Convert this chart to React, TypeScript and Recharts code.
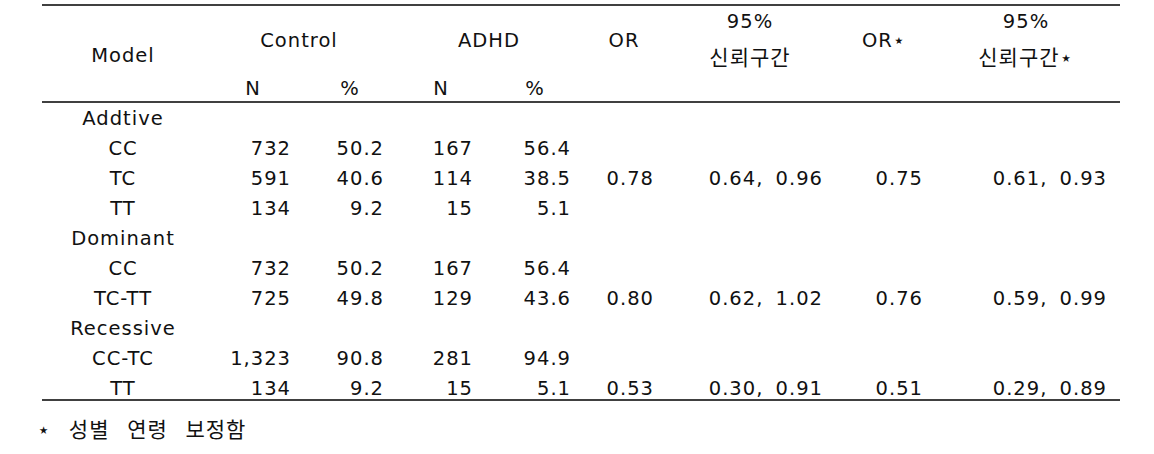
import React from "react";
import { ScatterChart, Scatter, XAxis, YAxis, ReferenceLine } from "recharts";

// body rows of the table (one entry per row, "" = empty cell)
const modelRows = ["Addtive", "CC", "TC", "TT", "Dominant", "CC", "TC-TT", "Recessive", "CC-TC", "TT"];
const controlN = ["", "732", "591", "134", "", "732", "725", "", "1,323", "134"];
const controlPct = ["", "50.2", "40.6", "9.2", "", "50.2", "49.8", "", "90.8", "9.2"];
const adhdN = ["", "167", "114", "15", "", "167", "129", "", "281", "15"];
const adhdPct = ["", "56.4", "38.5", "5.1", "", "56.4", "43.6", "", "94.9", "5.1"];
const orCrude = ["", "", "0.78", "", "", "", "0.80", "", "", "0.53"];
const ciCrude = ["", "", "0.64, 0.96", "", "", "", "0.62, 1.02", "", "", "0.30, 0.91"];
const orAdj = ["", "", "0.75", "", "", "", "0.76", "", "", "0.51"];
const ciAdj = ["", "", "0.61, 0.93", "", "", "", "0.59, 0.99", "", "", "0.29, 0.89"];

const headerLabels = ["Model", "Control", "ADHD", "OR", "95%", "신뢰구간", "OR⋆", "95%", "신뢰구간⋆"];
const subHeaderLabels = ["N", "%", "N", "%"];
const footnote = "⋆ 성별 연령 보정함";

// layout
const W = 1154;
const H = 454;
const ROW0 = 118;
const ROW_H = 30;
const toRow = (px: number) => (px - ROW0) / ROW_H;

const bodyColumns = [
  { values: modelRows, x: 123, anchor: "middle" },
  { values: controlN, x: 291, anchor: "end" },
  { values: controlPct, x: 384, anchor: "end" },
  { values: adhdN, x: 473, anchor: "end" },
  { values: adhdPct, x: 571, anchor: "end" },
  { values: orCrude, x: 654, anchor: "end" },
  { values: ciCrude, x: 823, anchor: "end" },
  { values: orAdj, x: 923, anchor: "end" },
  { values: ciAdj, x: 1107, anchor: "end" },
];
const headerPos = [
  [123, 55], [299, 40], [489, 40], [624, 40], [750, 21],
  [750, 58], [884, 40], [1026, 21], [1026, 58],
];
const subHeaderX = [253, 350, 441, 535];
const rules = [5, 102, 400];

const cells = [
  ...bodyColumns.flatMap((col) =>
    col.values.map((text, i) => ({ x: col.x, y: i, text, anchor: col.anchor }))
  ),
  ...headerLabels.map((text, i) => ({
    x: headerPos[i][0],
    y: toRow(headerPos[i][1]),
    text,
    anchor: "middle",
  })),
  ...subHeaderLabels.map((text, i) => ({ x: subHeaderX[i], y: toRow(88), text, anchor: "middle" })),
  { x: 37, y: toRow(430), text: footnote, anchor: "start" },
].filter((c) => c.text !== "");

const FONT = "'DejaVu Sans', 'Noto Sans CJK KR', sans-serif";
const HANGUL = /[\uac00-\ud7a3]/;

const TextCell = (props: any) => {
  const { cx, cy, payload } = props;
  const korean = HANGUL.test(payload.text);
  return (
    <text
      x={cx}
      y={cy + 7}
      textAnchor={payload.anchor}
      fontSize={korean ? 21 : 19.5}
      fontFamily={FONT}
      letterSpacing={1}
      wordSpacing={payload.anchor === "start" ? 10 : 5}
      fill="#111"
    >
      {payload.text}
    </text>
  );
};

export default function App() {
  return (
    <div style={{ position: "absolute", left: 0, top: 0, background: "#fff" }}>
      <ScatterChart width={W} height={H} margin={{ top: 0, right: 0, bottom: 0, left: 0 }}>
        <XAxis type="number" dataKey="x" domain={[0, W]} hide />
        <YAxis type="number" dataKey="y" domain={[toRow(0), toRow(H)]} reversed hide />
        {rules.map((r) => (
          <ReferenceLine
            key={r}
            segment={[
              { x: 42, y: toRow(r) },
              { x: 1120, y: toRow(r) },
            ]}
            stroke="#000"
            strokeWidth={1.5}
          />
        ))}
        <Scatter data={cells} shape={TextCell} isAnimationActive={false} />
      </ScatterChart>
    </div>
  );
}
